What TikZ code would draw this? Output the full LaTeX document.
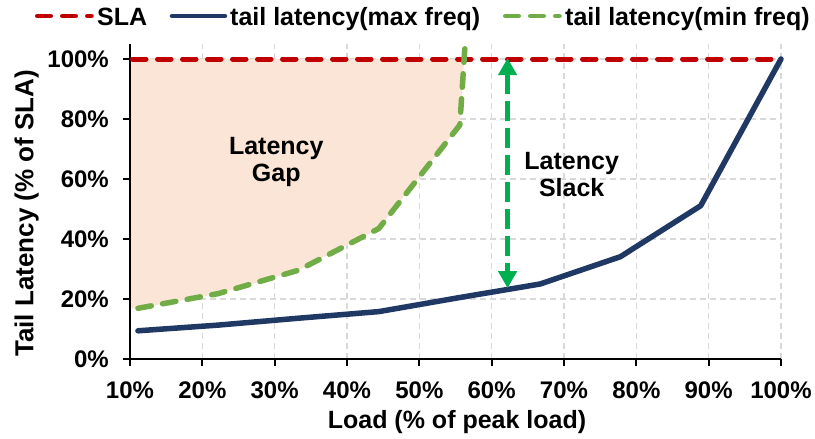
\documentclass[tikz,border=0pt]{standalone}
\usepackage{fontspec}
\setmainfont{Liberation Sans}
\usetikzlibrary{arrows.meta}

\definecolor{slared}{HTML}{C00000}
\definecolor{maxblue}{HTML}{1F3864}
\definecolor{mingreen}{HTML}{70AD47}
\definecolor{slackgreen}{HTML}{00B050}
\definecolor{gapfill}{HTML}{FBE5D6}
\definecolor{gridgray}{HTML}{D9D9D9}

\begin{document}
\begin{tikzpicture}[x=1pt,y=-1pt,
  ticklabel/.style={font=\fontsize{24}{28}\selectfont\bfseries, inner sep=0pt},
  titlelabel/.style={font=\fontsize{25}{30}\selectfont\bfseries, inner sep=0pt},
  legendtext/.style={font=\fontsize{25}{30}\selectfont\bfseries, inner sep=0pt, anchor=base west},
  notelabel/.style={font=\fontsize{25}{27}\selectfont\bfseries, inner sep=0pt, anchor=north, align=center},
  gridline/.style={gridgray, line width=1.3pt, dash pattern=on 6pt off 4pt},
  axisline/.style={black, line width=1.8pt},
  slaline/.style={slared, line width=5pt, line cap=round, dash pattern=on 13.5pt off 11.5pt},
  maxline/.style={maxblue, line width=5.5pt, line cap=round, line join=round},
  minline/.style={mingreen, line width=5.5pt, line cap=round, line join=round, dash pattern=on 13.5pt off 11.5pt},
  slackarrow/.style={slackgreen, line width=5pt, dash pattern=on 20pt off 7pt,
    {Triangle[width=18pt,length=17pt]}-{Triangle[width=18pt,length=17pt]}}]

\fill[white] (0,0) rectangle (815,439);
\useasboundingbox (0,0) rectangle (815,439);

% plot in data units: x = load (%), y = tail latency (% of SLA)
\begin{scope}[shift={(57.667,359)}, x=7.2333pt, y=3pt]
  % grid
  \foreach \L in {20,30,...,100} \draw[gridline] (\L,0) -- (\L,105);
  \foreach \T in {20,40,...,100} \draw[gridline] (10,\T) -- (100,\T);

  % latency gap area between the SLA and the min-frequency curve
  \fill[gapfill] (10,100) -- (56.2,100) -- (55.6,78) -- (44.4,43.5) -- (33.3,29.6)
     -- (22.2,21.8) -- (11.1,16.9) -- (10,16.9) -- cycle;

  % axes
  \draw[axisline] (10,105) -- (10,0) -- (100,0);

  % series
  \draw[slaline] (10.35,100) -- (100,100);
  \draw[maxline] (11.1,9.4) -- (22.2,11.3) -- (33.3,13.6) -- (44.4,15.8) -- (55.6,20.5)
     -- (66.7,25) -- (77.8,34.1) -- (88.9,51.1) -- (100,100);
  \draw[minline] (11.1,16.9) -- (22.2,21.8) -- (33.3,29.6) -- (44.4,43.5) -- (55.6,78)
     -- (56.3,104);

  % latency slack arrow
  \coordinate (slackTop) at (62.2,100.3);
  \coordinate (slackBot) at (62.2,23.6);
  \draw[slackarrow] (slackTop) -- (slackBot);
\end{scope}

% tick marks and tick labels
\foreach \k in {0,...,5} {
  \draw[axisline] (123,359-60*\k) -- (130,359-60*\k);
  \pgfmathtruncatemacro{\v}{20*\k}
  \node[ticklabel, anchor=base east] (ylab\k) at (109,367.6-60*\k) {\v\%};
}
\foreach \k in {0,...,9} {
  \draw[axisline] (130+72.333*\k,359) -- (130+72.333*\k,366);
  \pgfmathtruncatemacro{\v}{10+10*\k}
  \node[ticklabel, anchor=base] (xlab\k) at (130+72.333*\k,398) {\v\%};
}

% axis titles
\node[titlelabel, anchor=base] (xtitle) at (457,428.3) {Load (\% of peak load)};
\node[titlelabel, font=\fontsize{26}{30}\selectfont\bfseries, rotate=90, anchor=base] (ytitle)
  at (33.3,213.3) {Tail Latency (\% of SLA)};

% annotations
\node[notelabel] (gap) at (276.3,136.7) {Latency\\Gap};
\node[notelabel, font=\fontsize{25}{27.7}\selectfont\bfseries] (slack) at (571.7,151.7) {Latency\\Slack};

% legend
\draw[slared, line width=4.5pt, line cap=round, dash pattern=on 13.5pt off 11.5pt] (37.25,16) -- (91.5,16);
\node[legendtext] (legSLA) at (97,25) {SLA};
\draw[maxblue, line width=4.5pt, line cap=round] (172,16) -- (225,16);
\node[legendtext] (legMax) at (230,25) {tail latency(max freq)};
\draw[mingreen, line width=4.5pt, line cap=round, dash pattern=on 13.5pt off 11.5pt] (505.25,16) -- (559.5,16);
\node[legendtext] (legMin) at (565,25) {tail latency(min freq)};
\end{tikzpicture}
\end{document}
